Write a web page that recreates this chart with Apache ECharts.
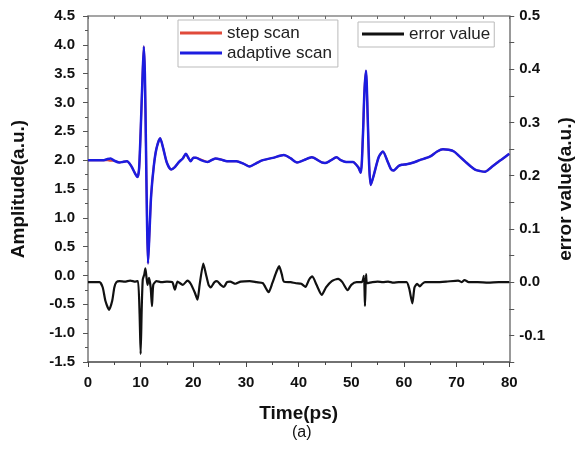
<!DOCTYPE html>
<html>
<head>
<meta charset="utf-8">
<script src="https://cdn.jsdelivr.net/npm/echarts@6/dist/echarts.min.js"></script>
<style>
html,body{margin:0;padding:0;background:#fff;}
#chart{width:583px;height:451px;}
</style>
</head>
<body>
<div id="chart"></div>
<script>
// Time axis (ps) for the scan curves
var scanTime = [0,1,2,3,3.7,4.3,5,6,6.6,7.4,8.2,9.0,9.4,9.7,10.0,10.3,10.6,10.8,11.0,11.2,11.4,11.7,12.0,12.5,13.0,13.7,14.3,15.0,15.8,16.5,17.3,18.0,18.6,19.0,19.5,20.0,20.5,21.5,22.7,24.2,25.3,26.4,28.2,29.5,30.7,32.0,33.2,35.1,37.2,38.5,39.7,41.0,42.5,44.4,45.0,46.0,47.2,48.0,49.0,50.3,51.3,51.8,52.2,52.5,52.8,53.1,53.4,53.7,54.3,55.2,56.0,56.8,57.5,58.0,59.0,59.6,60.5,61.8,63.0,64.9,66.3,67.4,68.5,69.5,70.5,71.7,72.7,73.6,74.5,75.4,76.5,77.9,79.0,80.0];
// Adaptive scan amplitude (a.u.)
var adaptiveScan = [2.0,2.0,2.0,2.0,2.02,2.03,1.99,1.96,1.97,1.98,1.90,1.76,1.71,1.85,2.5,3.3,3.97,3.5,2.3,1.0,0.21,0.8,1.4,1.9,2.2,2.38,2.2,1.95,1.84,1.88,1.97,2.03,2.11,2.05,1.98,2.04,2.04,2.0,1.97,2.03,2.01,1.98,1.98,1.94,1.89,1.95,2.0,2.04,2.09,2.03,1.96,2.0,2.05,1.96,1.95,1.99,2.05,2.0,1.97,1.97,1.88,1.78,2.4,3.2,3.55,2.8,1.9,1.57,1.75,2.05,2.15,2.0,1.85,1.82,1.9,1.92,1.93,1.96,2.0,2.06,2.15,2.19,2.18,2.15,2.07,1.97,1.89,1.83,1.81,1.80,1.87,1.97,2.04,2.11];
// Step scan amplitude (a.u.)
var stepScan = [2.0,2.0,2.0,2.0,2.0,1.99,1.99,1.96,1.97,1.98,1.90,1.76,1.71,1.85,2.5,3.3,3.97,3.5,2.3,1.0,0.21,0.8,1.4,1.9,2.2,2.38,2.2,1.95,1.84,1.88,1.97,2.03,2.11,2.05,1.98,2.04,2.04,2.01,1.97,2.03,2.01,1.98,1.98,1.94,1.89,1.95,2.0,2.04,2.09,2.03,1.96,2.0,2.05,1.96,1.95,1.99,2.05,2.0,1.97,1.97,1.88,1.78,2.4,3.2,3.55,2.8,1.9,1.57,1.75,2.05,2.15,2.0,1.85,1.82,1.9,1.92,1.93,1.96,2.0,2.06,2.15,2.19,2.18,2.15,2.07,1.97,1.89,1.83,1.81,1.80,1.87,1.97,2.04,2.11];
// Error curve
var errTime = [0,2.2,2.8,3.3,4.0,4.6,5.0,5.4,6,7,8,9,9.5,9.8,10.0,10.2,10.4,10.7,10.9,11.1,11.3,11.6,11.9,12.15,12.4,13,14,15,16,16.5,17,18,18.9,19.5,20.3,20.8,21.2,21.9,22.4,22.9,23.3,24,24.5,25.2,25.8,26.4,27,28,29,30.7,32,33.2,34.3,35,35.8,36.3,36.8,37.2,38.5,39.5,40.5,41.3,42,42.6,43.4,44.4,45.2,46.3,47.5,48.3,49.3,50,51,52,52.4,52.6,52.8,53.0,54,55,56,57,58,59,60.5,61.0,61.6,62.0,62.5,63.0,63.5,64,66,68,70.3,71,71.5,72.3,74,76,78,80];
var errValue = [0,0,-0.01,-0.035,-0.052,-0.035,-0.01,0.0,0.002,0.001,0.003,0.001,0.002,-0.06,-0.135,-0.05,0.005,0.015,0.026,0.01,-0.005,0.008,-0.01,-0.045,-0.005,0.002,0.0,0.001,0.0,-0.014,0.001,-0.005,0.003,-0.003,-0.02,-0.033,-0.005,0.035,0.015,-0.005,-0.01,0.0,0.002,-0.005,-0.009,0,0.001,-0.003,0.001,0.002,0.0,-0.002,-0.019,-0.002,0.02,0.030,0.015,0.001,0.0,-0.002,-0.003,-0.009,0.005,0.011,-0.005,-0.024,-0.01,0.002,0.006,0.0,-0.015,-0.005,0,0.0,0.012,-0.045,0.015,-0.002,0.0,0.001,0.0,0.001,-0.001,0.0,0.0,-0.012,-0.040,-0.01,-0.003,-0.008,-0.003,0.0,0.0,0.001,0.003,0.0,0.004,0.0,0.0,-0.001,0.0,0.0];
// Axis ranges / ticks
var xRange = [0, 80];
var ampRange = [-1.5, 4.5];
var errRange = [-0.15, 0.5];

function zip(a, b) { return a.map(function (v, i) { return [v, b[i]]; }); }

var chart = echarts.init(document.getElementById('chart'), null, {renderer: 'canvas'});
var FONT = '"Liberation Sans", Arial, sans-serif';
var axisColor = '#444';
chart.setOption({
  animation: false,
  backgroundColor: '#fff',
  grid: {left: 88, right: 65, top: 16, bottom: 89, containLabel: false},
  legend: [
    {
      data: ['step scan', 'adaptive scan'],
      orient: 'vertical', left: 178, top: 20,
      padding: [4, 6, 5, 2],
      icon: 'rect',
      itemWidth: 42, itemHeight: 3, itemGap: 2,
      borderColor: '#bbb', borderWidth: 1,
      textStyle: {fontFamily: FONT, fontSize: 17, color: '#222', lineHeight: 18}
    },
    {
      data: ['error value'],
      orient: 'vertical', left: 358, top: 22,
      padding: [3, 4, 4, 4],
      icon: 'rect',
      itemWidth: 42, itemHeight: 3,
      borderColor: '#bbb', borderWidth: 1,
      textStyle: {fontFamily: FONT, fontSize: 17, color: '#222', lineHeight: 18}
    }
  ],
  xAxis: [
    {
      type: 'value', min: xRange[0], max: xRange[1], interval: 10,
      name: 'Time(ps)', nameLocation: 'middle', nameGap: 42,
      nameTextStyle: {fontFamily: FONT, fontSize: 19, fontWeight: 'bold', color: '#111'},
      axisLine: {show: true, onZero: false, lineStyle: {color: axisColor, width: 1.5}},
      axisTick: {show: true, inside: false, length: 5, lineStyle: {color: axisColor}},
      minorTick: {show: true, splitNumber: 2, length: 3, lineStyle: {color: axisColor}},
      axisLabel: {fontFamily: FONT, fontSize: 15, fontWeight: 'bold', color: '#111', margin: 13},
      splitLine: {show: false}
    },
    {
      type: 'value', position: 'top', min: xRange[0], max: xRange[1], interval: 5,
      axisLine: {show: true, onZero: false, lineStyle: {color: '#888', width: 1.5}},
      axisTick: {show: true, inside: true, length: 3, lineStyle: {color: '#666'}},
      axisLabel: {show: false},
      splitLine: {show: false}
    }
  ],
  yAxis: [
    {
      type: 'value', min: ampRange[0], max: ampRange[1], interval: 0.5,
      name: 'Amplitude(a.u.)', nameLocation: 'middle', nameGap: 60, nameRotate: 90,
      nameTextStyle: {fontFamily: FONT, fontSize: 19, fontWeight: 'bold', color: '#111'},
      axisLine: {show: true, onZero: false, lineStyle: {color: '#777', width: 1.5}},
      axisTick: {show: true, inside: false, length: 5, lineStyle: {color: '#555'}},
      minorTick: {show: true, splitNumber: 2, length: 3, lineStyle: {color: '#555'}},
      axisLabel: {fontFamily: FONT, fontSize: 15, fontWeight: 'bold', color: '#111', margin: 13,
        formatter: function (v) { return v.toFixed(1); }},
      splitLine: {show: false}
    },
    {
      type: 'value', position: 'right', min: errRange[0], max: errRange[1], interval: 0.05,
      name: 'error value(a.u.)', nameLocation: 'middle', nameGap: 40, nameRotate: 90,
      nameTextStyle: {fontFamily: FONT, fontSize: 19, fontWeight: 'bold', color: '#111'},
      axisLine: {show: true, onZero: false, lineStyle: {color: '#777', width: 1.5}},
      axisTick: {show: true, inside: false, length: 5, lineStyle: {color: '#555'}},
      axisLabel: {fontFamily: FONT, fontSize: 15, fontWeight: 'bold', color: '#111', margin: 10,
        formatter: function (v) {
          var k = Math.round(v * 100);
          if (k % 10 !== 0) return '';
          return (k / 100).toFixed(1);
        }},
      splitLine: {show: false}
    }
  ],
  series: [
    {
      name: 'step scan', type: 'line', xAxisIndex: 0, yAxisIndex: 0,
      data: zip(scanTime, stepScan), symbol: 'none', smooth: 0.25,
      lineStyle: {color: '#e04a3a', width: 2.0}, itemStyle: {color: '#e04a3a'}
    },
    {
      name: 'adaptive scan', type: 'line', xAxisIndex: 0, yAxisIndex: 0,
      data: zip(scanTime, adaptiveScan), symbol: 'none', smooth: 0.25,
      lineStyle: {color: '#1c1ce0', width: 2.5}, itemStyle: {color: '#1c1ce0'}
    },
    {
      name: 'error value', type: 'line', xAxisIndex: 0, yAxisIndex: 1,
      data: zip(errTime, errValue), symbol: 'none', smooth: 0.2,
      lineStyle: {color: '#111', width: 2.2}, itemStyle: {color: '#111'}
    }
  ],
  graphic: [
    {type: 'text', left: 292, top: 425,
     style: {text: '(a)', fontFamily: FONT, fontSize: 16, fill: '#111'}}
  ]
});
</script>
</body>
</html>
